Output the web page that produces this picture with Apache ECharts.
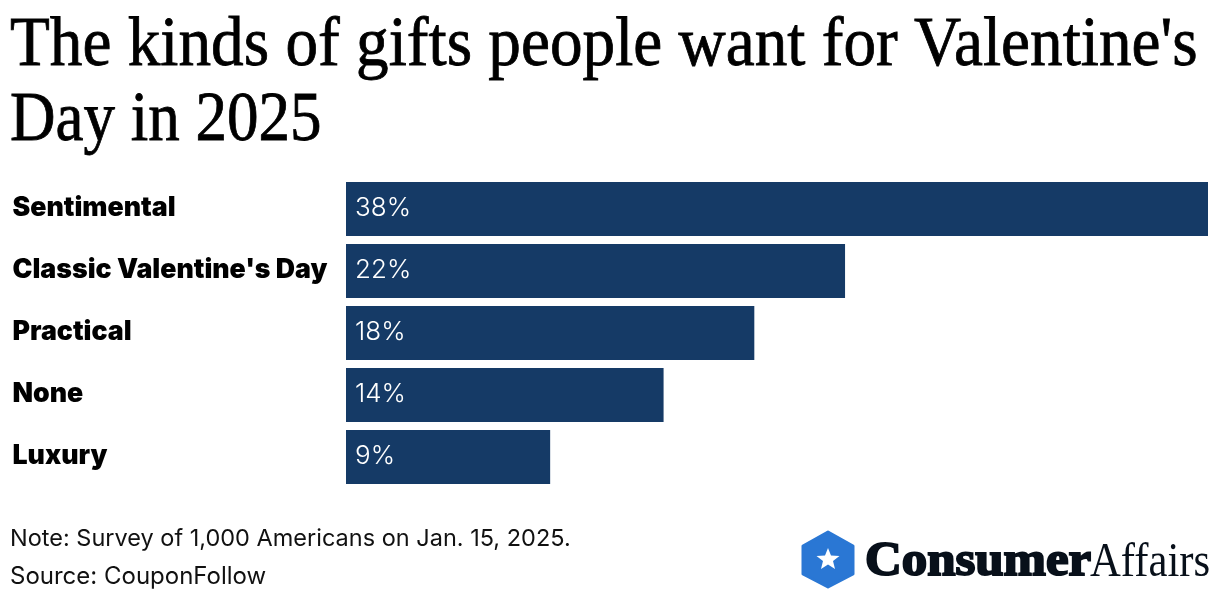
<!DOCTYPE html>
<html><head><meta charset="utf-8">
<style>html,body{margin:0;padding:0;background:#fff}#c{width:1220px;height:600px}</style>
<script src="https://cdn.jsdelivr.net/npm/echarts@6/dist/echarts.min.js"></script></head>
<body><div id="c"></div>
<script>
const categories = ["Sentimental","Classic Valentine's Day","Practical","None","Luxury"];
const values = [38,22,18,14,9];
const titleLines = ["The kinds of gifts people want for Valentine's","Day in 2025"];
const noteLines = ["Note: Survey of 1,000 Americans on Jan. 15, 2025.","Source: CouponFollow"];
const chart = echarts.init(document.getElementById('c'),null,{renderer:'canvas'});
chart.setOption({
  animation:false,
  backgroundColor:'#fff',
  grid:{left:346,top:178,width:862,height:310},
  xAxis:{type:'value',min:0,max:38,show:false},
  yAxis:{type:'category',inverse:true,data:categories,
    axisLine:{show:false},axisTick:{show:false},
    axisLabel:{align:'left',margin:333.5,formatter:'{a|{value}}',
      rich:{a:{fontFamily:'Inter',fontWeight:900,fontSize:26.7,color:'#000',padding:[0,0,2,0]}}}},
  series:[{type:'bar',data:values,barWidth:54,itemStyle:{color:'#153a66'},
    label:{show:true,position:'insideLeft',distance:9,offset:[0,-1],formatter:'{c}%',fontFamily:'Inter',fontWeight:300,fontSize:26,color:'#fff'}}],
  graphic:[
    {type:'text',x:10,y:12,scaleX:0.932,style:{text:titleLines[0],font:'400 70px "Liberation Serif"',fill:'#000',stroke:'#000',lineWidth:0.8}},
    {type:'text',x:10,y:87,scaleX:0.9,style:{text:titleLines[1],font:'400 70px "Liberation Serif"',fill:'#000',stroke:'#000',lineWidth:0.8}},
    {type:'text',left:10,top:527,style:{text:noteLines[0],font:'400 23.5px Inter',fill:'#111'}},
    {type:'text',left:10,top:565,style:{text:noteLines[1],font:'400 24px Inter',fill:'#111'}},
    {type:'polygon',shape:{points:[[828,532],[853,546],[853,574],[828,587],[803,574],[803,546]]},style:{fill:'#2a77d4',lineJoin:'round',stroke:'#2a77d4',lineWidth:3}},
    {type:'polygon',shape:{points:[[828,548],[831,555.5],[839.5,556],[833,561],[835,569],[828,564.5],[821,569],[823,561],[816.5,556],[825,555.5]]},style:{fill:'#fff'}},
    {type:'text',x:865,y:539,scaleX:1.06,style:{text:'Consumer',font:'900 48px "Liberation Serif"',fill:'#08101a',stroke:'#08101a',lineWidth:2}},
    {type:'text',x:1090,y:539,scaleX:0.89,style:{text:'Affairs',font:'400 48px "Liberation Serif"',fill:'#08101a'}}
  ]
});
</script></body></html>
